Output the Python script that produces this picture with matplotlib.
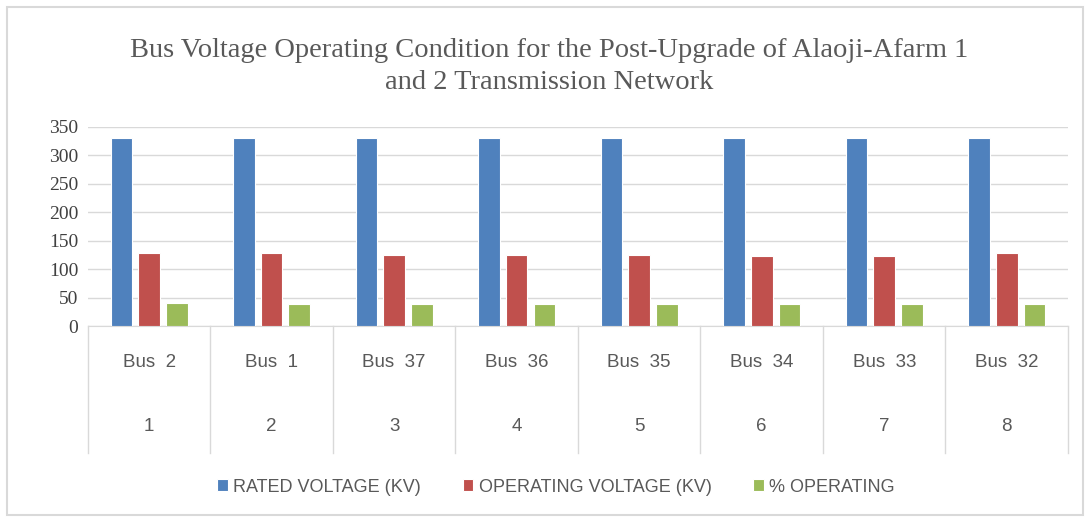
import numpy as np
import matplotlib.pyplot as plt
from matplotlib.patches import Rectangle

# data
buses = ['Bus 2', 'Bus 1', 'Bus 37', 'Bus 36', 'Bus 35', 'Bus 34', 'Bus 33', 'Bus 32']
numbers = ['1', '2', '3', '4', '5', '6', '7', '8']
rated = [330, 330, 330, 330, 330, 330, 330, 330]
operating = [128, 128, 124, 124, 124, 122, 122, 128]
pct_operating = [40, 38, 38, 38, 38, 38, 38, 38]
series_names = ['RATED VOLTAGE (KV)', 'OPERATING VOLTAGE (KV)', '% OPERATING']
colors = ['#4F81BD', '#C0504D', '#9BBB59']

fig = plt.figure(figsize=(10.86, 5.17), dpi=100)
ax = fig.add_axes([0.081, 0.3694, 0.9024, 0.3859])

x = np.arange(len(buses))
w = 0.176
off = 0.225
for i, vals in enumerate([rated, operating, pct_operating]):
    ax.bar(x + (i - 1) * off, vals, w, color=colors[i], edgecolor='white',
           linewidth=0.8, label=series_names[i], zorder=3)

ax.set_xlim(-0.5, len(buses) - 0.5)
ax.set_ylim(0, 350)
ax.set_yticks(range(0, 351, 50))
ax.grid(axis='y', color='#D9D9D9', linewidth=1, zorder=0)
for s in ['top', 'right', 'left']:
    ax.spines[s].set_visible(False)
ax.spines['bottom'].set_color('#D9D9D9')
ax.tick_params(axis='y', length=0, pad=7, labelsize=14, labelcolor='#404040')
ax.tick_params(axis='x', length=0, labelbottom=False)
for lab in ax.get_yticklabels():
    lab.set_family('Liberation Serif')

# category table below the axis
tr = ax.get_xaxis_transform()
for b in np.arange(len(buses) + 1) - 0.5:
    ax.plot([b, b], [0, -0.637], transform=tr, color='#D9D9D9', lw=1, clip_on=False)
for i in range(len(buses)):
    ax.text(x[i], -0.185, buses[i].replace(' ', '  '), transform=tr, ha='center', va='center',
            fontsize=13.5, color='#595959', family='Liberation Sans')
    ax.text(x[i], -0.506, numbers[i], transform=tr, ha='center', va='center',
            fontsize=13.5, color='#595959', family='Liberation Sans')

fig.text(0.506, 0.903, 'Bus Voltage Operating Condition for the Post-Upgrade of Alaoji-Afarm 1',
         ha='center', va='center', fontsize=20.5, color='#595959', family='Liberation Serif')
fig.text(0.506, 0.84, 'and 2 Transmission Network',
         ha='center', va='center', fontsize=20.5, color='#595959', family='Liberation Serif')

leg = fig.legend(loc='center', bbox_to_anchor=(0.512, 0.058), ncol=3, frameon=False,
                 handlelength=0.6, handleheight=0.6, handletextpad=0.3, columnspacing=2.3,
                 prop={'family': 'Liberation Sans', 'size': 13})
for t in leg.get_texts():
    t.set_color('#595959')

fig.patches.append(Rectangle((0.0065, 0.004), 0.9905, 0.982, transform=fig.transFigure,
                             fill=False, edgecolor='#D9D9D9', lw=1.5))

fig.savefig('out.png', dpi=100)
